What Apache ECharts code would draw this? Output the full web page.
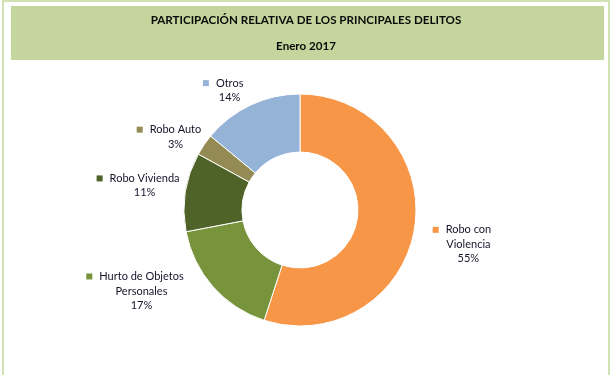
<!DOCTYPE html>
<html>
<head>
<meta charset="utf-8">
<script src="https://cdn.jsdelivr.net/npm/echarts@6/dist/echarts.min.js"></script>
<style>
  html, body { margin: 0; padding: 0; background: #fff; }
  #chart { width: 612px; height: 375px; }
</style>
</head>
<body>
<div id="chart"></div>
<script>
const categories = ['Robo con\nViolencia', 'Hurto de Objetos\nPersonales', 'Robo Vivienda', 'Robo Auto', 'Otros']
const values = [55, 17, 11, 3, 14]
const colors = ['#f79646', '#77933c', '#4f6228', '#948a54', '#95b3d7']

// small nudges so labels sit where the spreadsheet put them
const labelShift = [[31, 14], [-52, -5], [-18, -4], [-8, 0], [-6, -2]]

const chart = echarts.init(document.getElementById('chart'))
const font = 'Lato, "Open Sans", sans-serif'

chart.setOption({
  animation: false,
  graphic: [
    { type: 'rect', shape: { x: 3, y: 1, width: 606, height: 380 }, style: { fill: 'none', stroke: '#c4d79b', lineWidth: 1.5 }, z: 0 },
    { type: 'rect', shape: { x: 11, y: 6, width: 593, height: 54 }, style: { fill: '#c4d59d' }, z: 0 }
  ],
  title: [
    { text: 'PARTICIPACIÓN RELATIVA DE LOS PRINCIPALES DELITOS', left: 'center', top: 9,
      textStyle: { fontFamily: font, fontWeight: 'bold', fontSize: 11.6, color: '#0a0a0a' } },
    { text: 'Enero 2017', left: 'center', top: 35,
      textStyle: { fontFamily: font, fontWeight: 'bold', fontSize: 11.6, color: '#0a0a0a' } }
  ],
  series: [{
    type: 'pie',
    center: [300, 210],
    radius: [58, 116],
    startAngle: 90,
    clockwise: true,
    itemStyle: { borderColor: '#fff', borderWidth: 1 },
    label: {
      show: true,
      position: 'outside',
      fontFamily: font,
      fontSize: 11,
      color: '#14142a',
      lineHeight: 14.5,
      formatter: p => {
        const lines = p.name.split('\n')
        lines[0] = '{sq|}{gap|}' + lines[0] + '{pad|}'
        return lines.join('\n') + '\n' + p.value + '%'
      },
      rich: {
        sq: { width: 6, height: 6, backgroundColor: 'inherit' },
        gap: { width: 7 },
        pad: { width: 13 }
      }
    },
    labelLine: { show: false, length: 14, length2: 4 },
    labelLayout: p => ({
      align: 'center',
      dx: labelShift[p.dataIndex][0],
      dy: labelShift[p.dataIndex][1]
    }),
    data: categories.map((c, i) => ({ name: c, value: values[i], itemStyle: { color: colors[i] } }))
  }]
})
</script>
</body>
</html>
